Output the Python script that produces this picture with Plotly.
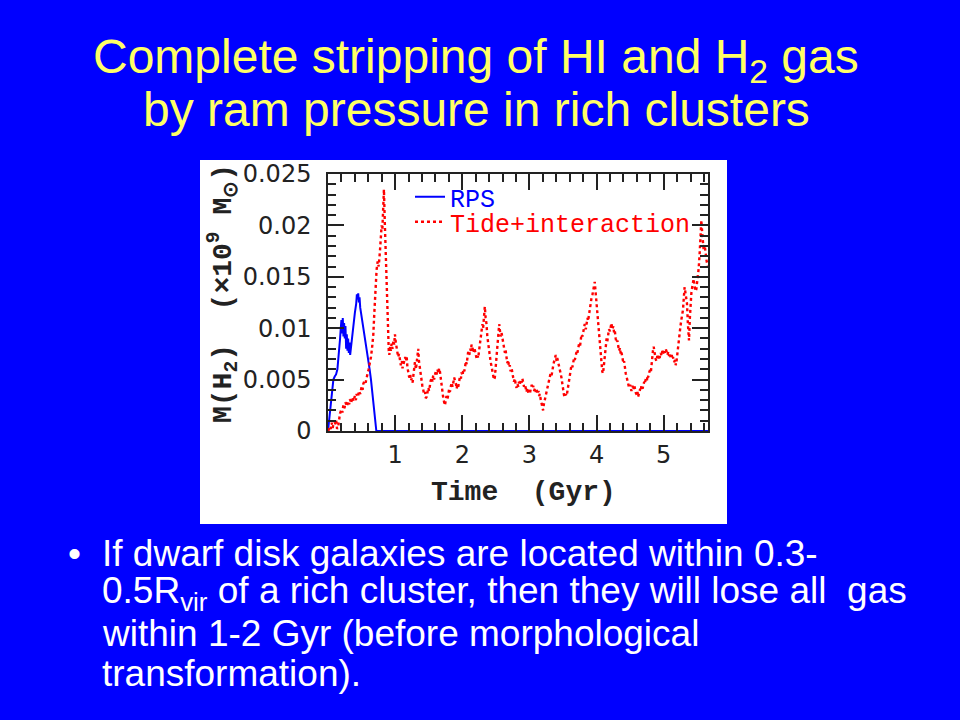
import plotly.graph_objects as go

# ---------------- data ----------------
rps_t = [0, 0.01, 0.02, 0.03, 0.04, 0.05, 0.06, 0.07, 0.08, 0.10, 0.12, 0.14, 0.16, 0.18,
         0.19, 0.20, 0.21, 0.22, 0.23, 0.24, 0.25, 0.26, 0.27, 0.28, 0.29, 0.30, 0.31, 0.32,
         0.33, 0.34, 0.35, 0.36, 0.38, 0.40, 0.42, 0.43, 0.44, 0.45, 0.46, 0.47, 0.48,
         0.50, 0.52, 0.54, 0.56, 0.58, 0.60, 0.62, 0.64, 0.66, 0.68, 0.70, 0.72, 5.66]
rps_m = [0, 0.0006, 0.0013, 0.0022, 0.0030, 0.0036, 0.0042, 0.0047, 0.0050, 0.0053, 0.0055,
         0.0060, 0.0072, 0.0090,
         0.0100, 0.0108, 0.0095, 0.0110, 0.0092, 0.0105, 0.0090, 0.0102, 0.0080, 0.0094,
         0.0078, 0.0090, 0.0076, 0.0086, 0.0074, 0.0080, 0.0088, 0.0095,
         0.0105, 0.0115, 0.0124, 0.0133, 0.0128, 0.0134, 0.0125, 0.0130, 0.0120,
         0.0112, 0.0100, 0.0094, 0.0085, 0.0078, 0.0068, 0.0060, 0.0050, 0.0036, 0.0022,
         0.0008, 0, 0]

tide_t = [
    0.005, 0.02, 0.04, 0.055, 0.07, 0.09, 0.104, 0.12, 0.135, 0.154,
    0.17, 0.179, 0.20, 0.215, 0.228, 0.245, 0.26, 0.28, 0.30, 0.315,
    0.327, 0.345, 0.36, 0.38, 0.40, 0.415, 0.427, 0.445, 0.46, 0.48,
    0.50, 0.515, 0.526, 0.545, 0.56, 0.575, 0.59, 0.605, 0.625, 0.64,
    0.655, 0.675, 0.69, 0.705, 0.724, 0.74, 0.755, 0.774, 0.785, 0.799,
    0.81, 0.822, 0.833, 0.845, 0.855, 0.863, 0.873, 0.883, 0.895, 0.905,
    0.913, 0.925, 0.935, 0.947, 0.96, 0.975, 0.985, 0.997, 1.01, 1.02,
    1.032, 1.045, 1.058, 1.071, 1.085, 1.10, 1.11, 1.121, 1.135, 1.15,
    1.16, 1.171, 1.183, 1.195, 1.21, 1.225, 1.235, 1.245, 1.26, 1.275,
    1.285, 1.295, 1.31, 1.325, 1.335, 1.344, 1.355, 1.369, 1.38, 1.395,
    1.405, 1.419, 1.43, 1.445, 1.455, 1.468, 1.48, 1.495, 1.505, 1.518,
    1.53, 1.545, 1.555, 1.567, 1.58, 1.595, 1.605, 1.617, 1.63, 1.645,
    1.655, 1.667, 1.68, 1.691, 1.705, 1.715, 1.73, 1.741, 1.755, 1.765,
    1.78, 1.791, 1.805, 1.815, 1.83, 1.84, 1.855, 1.865, 1.88, 1.89,
    1.905, 1.915, 1.93, 1.94, 1.955, 1.965, 1.98, 1.989, 2.005, 2.015,
    2.03, 2.039, 2.055, 2.065, 2.08, 2.088, 2.105, 2.115, 2.13, 2.138,
    2.155, 2.165, 2.18, 2.188, 2.205, 2.215, 2.23, 2.237, 2.25, 2.265,
    2.275, 2.287, 2.30, 2.31, 2.325, 2.336, 2.348, 2.361, 2.373, 2.386,
    2.40, 2.41, 2.421, 2.435, 2.45, 2.46, 2.472, 2.485, 2.50, 2.51,
    2.52, 2.535, 2.55, 2.56, 2.572, 2.584, 2.60, 2.61, 2.619, 2.635,
    2.645, 2.659, 2.67, 2.685, 2.695, 2.708, 2.72, 2.735, 2.745, 2.758,
    2.77, 2.785, 2.795, 2.808, 2.82, 2.835, 2.845, 2.857, 2.87, 2.885,
    2.895, 2.907, 2.92, 2.935, 2.945, 2.956, 2.97, 2.985, 2.995, 3.006,
    3.02, 3.035, 3.045, 3.056, 3.07, 3.085, 3.095, 3.105, 3.12, 3.135,
    3.145, 3.155, 3.17, 3.185, 3.195, 3.204, 3.215, 3.23, 3.24, 3.254,
    3.265, 3.28, 3.29, 3.304, 3.315, 3.33, 3.34, 3.353, 3.365, 3.38,
    3.393, 3.405, 3.415, 3.428, 3.44, 3.455, 3.465, 3.477, 3.49, 3.505,
    3.515, 3.527, 3.54, 3.555, 3.565, 3.576, 3.59, 3.605, 3.615, 3.626,
    3.64, 3.655, 3.665, 3.676, 3.69, 3.705, 3.715, 3.725, 3.74, 3.755,
    3.765, 3.775, 3.79, 3.805, 3.815, 3.824, 3.84, 3.855, 3.865, 3.874,
    3.89, 3.905, 3.915, 3.924, 3.94, 3.955, 3.965, 3.973, 3.985, 3.998,
    4.01, 4.023, 4.035, 4.048, 4.06, 4.072, 4.085, 4.097, 4.11, 4.122,
    4.135, 4.15, 4.16, 4.172, 4.185, 4.20, 4.21, 4.221, 4.235, 4.25,
    4.26, 4.271, 4.285, 4.30, 4.31, 4.32, 4.335, 4.35, 4.36, 4.37,
    4.385, 4.40, 4.41, 4.42, 4.435, 4.45, 4.46, 4.469, 4.485, 4.50,
    4.51, 4.519, 4.535, 4.55, 4.56, 4.568, 4.585, 4.60, 4.61, 4.618,
    4.635, 4.65, 4.66, 4.668, 4.685, 4.70, 4.71, 4.717, 4.735, 4.75,
    4.76, 4.767, 4.785, 4.80, 4.81, 4.816, 4.83, 4.84, 4.851, 4.865,
    4.88, 4.891, 4.905, 4.92, 4.93, 4.94, 4.955, 4.97, 4.98, 4.99,
    5.005, 5.02, 5.03, 5.04, 5.055, 5.07, 5.08, 5.089, 5.105, 5.12,
    5.13, 5.139, 5.155, 5.17, 5.18, 5.188, 5.20, 5.215, 5.225, 5.238,
    5.25, 5.265, 5.275, 5.288, 5.30, 5.312, 5.325, 5.335, 5.347, 5.36,
    5.37, 5.377, 5.39, 5.40, 5.412, 5.425, 5.435, 5.446, 5.46, 5.475,
    5.486, 5.50, 5.51, 5.521, 5.535, 5.55, 5.561, 5.575, 5.585, 5.595,
    5.61, 5.625, 5.64, 5.66]
tide_m = [
    0.0000, 0.0004, 0.0002, 0.0008, 0.0003, 0.0010, 0.0006, 0.0011, 0.0002, 0.0005,
    0.0013, 0.0017, 0.0021, 0.0018, 0.0025, 0.0022, 0.0028, 0.0024, 0.0029, 0.0026,
    0.0031, 0.0027, 0.0033, 0.0029, 0.0034, 0.0030, 0.0036, 0.0033, 0.0039, 0.0036,
    0.0043, 0.0040, 0.0046, 0.0049, 0.0047, 0.0054, 0.0056, 0.0060, 0.0066, 0.0072,
    0.0080, 0.0094, 0.0115, 0.0138, 0.0157, 0.0165, 0.0160, 0.0175, 0.0186, 0.0200,
    0.0196, 0.0215, 0.0235, 0.0205, 0.0185, 0.0160, 0.0130, 0.0108, 0.0090, 0.0078,
    0.0074, 0.0082, 0.0078, 0.0085, 0.0080, 0.0088, 0.0084, 0.0094, 0.0086, 0.0081,
    0.0078, 0.0072, 0.0075, 0.0068, 0.0064, 0.0068, 0.0061, 0.0064, 0.0067, 0.0072,
    0.0068, 0.0073, 0.0062, 0.0056, 0.0052, 0.0055, 0.0049, 0.0051, 0.0047, 0.0056,
    0.0062, 0.0067, 0.0060, 0.0072, 0.0078, 0.0080, 0.0068, 0.0060, 0.0052, 0.0047,
    0.0044, 0.0040, 0.0036, 0.0038, 0.0032, 0.0033, 0.0038, 0.0042, 0.0039, 0.0045,
    0.0049, 0.0052, 0.0048, 0.0054, 0.0050, 0.0055, 0.0058, 0.0055, 0.0060, 0.0056,
    0.0061, 0.0058, 0.0050, 0.0046, 0.0040, 0.0033, 0.0028, 0.0025, 0.0030, 0.0034,
    0.0031, 0.0037, 0.0041, 0.0038, 0.0044, 0.0047, 0.0043, 0.0048, 0.0052, 0.0049,
    0.0046, 0.0041, 0.0045, 0.0043, 0.0049, 0.0053, 0.0051, 0.0057, 0.0054, 0.0060,
    0.0058, 0.0064, 0.0068, 0.0065, 0.0072, 0.0077, 0.0074, 0.0080, 0.0078, 0.0084,
    0.0080, 0.0076, 0.0081, 0.0078, 0.0074, 0.0070, 0.0073, 0.0071, 0.0078, 0.0086,
    0.0093, 0.0097, 0.0104, 0.0100, 0.0112, 0.0121, 0.0110, 0.0104, 0.0092, 0.0084,
    0.0076, 0.0072, 0.0068, 0.0063, 0.0058, 0.0054, 0.0050, 0.0052, 0.0066, 0.0076,
    0.0084, 0.0096, 0.0104, 0.0098, 0.0092, 0.0096, 0.0088, 0.0084, 0.0080, 0.0076,
    0.0079, 0.0071, 0.0066, 0.0069, 0.0062, 0.0064, 0.0058, 0.0061, 0.0055, 0.0052,
    0.0048, 0.0051, 0.0045, 0.0042, 0.0046, 0.0043, 0.0048, 0.0045, 0.0050, 0.0047,
    0.0051, 0.0048, 0.0043, 0.0045, 0.0040, 0.0038, 0.0042, 0.0037, 0.0040, 0.0036,
    0.0041, 0.0045, 0.0042, 0.0044, 0.0039, 0.0042, 0.0038, 0.0041, 0.0036, 0.0039,
    0.0034, 0.0036, 0.0030, 0.0026, 0.0022, 0.0020, 0.0026, 0.0031, 0.0034, 0.0038,
    0.0042, 0.0046, 0.0049, 0.0052, 0.0056, 0.0054, 0.0060, 0.0063, 0.0067, 0.0070,
    0.0074, 0.0068, 0.0071, 0.0067, 0.0062, 0.0060, 0.0056, 0.0052, 0.0045, 0.0040,
    0.0035, 0.0033, 0.0036, 0.0034, 0.0039, 0.0043, 0.0050, 0.0055, 0.0060, 0.0064,
    0.0062, 0.0068, 0.0071, 0.0069, 0.0075, 0.0078, 0.0076, 0.0081, 0.0085, 0.0083,
    0.0090, 0.0094, 0.0092, 0.0098, 0.0100, 0.0104, 0.0099, 0.0106, 0.0110, 0.0107,
    0.0115, 0.0120, 0.0124, 0.0129, 0.0133, 0.0138, 0.0142, 0.0145, 0.0136, 0.0126,
    0.0114, 0.0102, 0.0092, 0.0082, 0.0072, 0.0063, 0.0058, 0.0056, 0.0066, 0.0076,
    0.0084, 0.0090, 0.0087, 0.0094, 0.0099, 0.0097, 0.0103, 0.0105, 0.0099, 0.0102,
    0.0096, 0.0098, 0.0090, 0.0086, 0.0088, 0.0082, 0.0078, 0.0081, 0.0075, 0.0077,
    0.0070, 0.0066, 0.0068, 0.0062, 0.0056, 0.0052, 0.0048, 0.0046, 0.0042, 0.0045,
    0.0041, 0.0039, 0.0044, 0.0040, 0.0045, 0.0042, 0.0037, 0.0035, 0.0038, 0.0033,
    0.0037, 0.0041, 0.0039, 0.0044, 0.0041, 0.0045, 0.0048, 0.0046, 0.0051, 0.0049,
    0.0054, 0.0052, 0.0057, 0.0060, 0.0058, 0.0064, 0.0072, 0.0078, 0.0082, 0.0074,
    0.0070, 0.0068, 0.0073, 0.0070, 0.0074, 0.0071, 0.0076, 0.0073, 0.0078, 0.0075,
    0.0079, 0.0076, 0.0080, 0.0078, 0.0074, 0.0077, 0.0073, 0.0076, 0.0071, 0.0074,
    0.0070, 0.0072, 0.0067, 0.0069, 0.0064, 0.0066, 0.0074, 0.0082, 0.0089, 0.0095,
    0.0102, 0.0109, 0.0114, 0.0118, 0.0130, 0.0140, 0.0134, 0.0128, 0.0124, 0.0105,
    0.0095, 0.0088, 0.0110, 0.0125, 0.0134, 0.0140, 0.0145, 0.0148, 0.0141, 0.0136,
    0.0138, 0.0145, 0.0152, 0.0158, 0.0172, 0.0190, 0.0205, 0.0192, 0.0183, 0.0176,
    0.0181, 0.0170, 0.0165, 0.0160]

x_tickvals = [1, 2, 3, 4, 5]
x_ticktext = ["1", "2", "3", "4", "5"]
y_tickvals = [0, 0.005, 0.01, 0.015, 0.02, 0.025]
y_ticktext = ["0", "0.005", "0.01", "0.015", "0.02", "0.025"]

title_lines = ["Complete stripping of HI and H<sub>2</sub> gas",
               "by ram pressure in rich clusters"]
body_lines = ["If dwarf disk galaxies are located within 0.3-",
              "0.5R<sub>vir</sub> of a rich cluster, then they will lose all  gas",
              "within 1-2 Gyr (before morphological",
              "transformation)."]

# ---------------- figure ----------------
W, H = 960, 720
L, R, T, B = 328, 252, 174, 289
PW, PH = W - L - R, H - T - B


def px(x):
    return (x - L) / PW


def py(y):
    return (H - B - y) / PH


fig = go.Figure()
fig.add_trace(go.Scatter(x=rps_t, y=rps_m, mode="lines", name="RPS", showlegend=True,
                         line=dict(color="#0000ff", width=2), legend="legend"))
fig.add_trace(go.Scatter(x=tide_t, y=tide_m, mode="lines", name="Tide+interaction",
                         showlegend=True,
                         line=dict(color="#ff0000", width=2.4, dash="dot"), legend="legend2"))

axis_common = dict(showline=True, linecolor="#222222", linewidth=1.5, mirror="ticks",
                   ticks="inside", tickcolor="#222222", tickwidth=1.5, ticklen=16,
                   showgrid=False, zeroline=False,
                   tickfont=dict(family="DejaVu Sans", size=24, color="#222222"))

fig.update_xaxes(range=[0, 5.66], tickmode="array", tickvals=x_tickvals, ticktext=x_ticktext,
                 ticklabelstandoff=1,
                 minor=dict(tickmode="linear", tick0=0, dtick=0.2, ticks="inside", ticklen=8,
                            tickcolor="#222222", tickwidth=1.5, showgrid=False),
                 **axis_common)
fig.update_yaxes(range=[0, 0.025], tickmode="array", tickvals=y_tickvals, ticktext=y_ticktext,
                 ticklabelstandoff=10,
                 minor=dict(tickmode="linear", tick0=0, dtick=0.001, ticks="inside", ticklen=8,
                            tickcolor="#222222", tickwidth=1.5, showgrid=False),
                 **axis_common)

annotations = []
for txt, yy in zip(title_lines, [60, 109]):
    annotations.append(dict(text=txt, x=px(476), y=py(yy), xref="paper", yref="paper",
                            xanchor="center", yanchor="middle", showarrow=False,
                            font=dict(family="Liberation Sans", size=48, color="#ffff66")))
for txt, yy in zip(body_lines, [553, 593, 633, 673]):
    annotations.append(dict(text=txt, x=px(100), y=py(yy), xref="paper", yref="paper",
                            xanchor="left", yanchor="middle", showarrow=False,
                            font=dict(family="Liberation Sans", size=37, color="white")))
annotations.append(dict(text="•", x=px(66), y=py(553), xref="paper", yref="paper",
                        xanchor="left", yanchor="middle", showarrow=False,
                        font=dict(family="Liberation Sans", size=37, color="white")))
annotations.append(dict(text="<b>Time  (Gyr)</b>", x=px(523), y=py(492), xref="paper",
                        yref="paper", xanchor="center", yanchor="middle", showarrow=False,
                        font=dict(family="Liberation Mono", size=28, color="#222222")))
annotations.append(dict(text="<b>M(H<sub>2</sub>)  (×10<sup>9</sup> M<sub>⊙</sub>)</b>",
                        x=px(223), y=py(294), xref="paper", yref="paper", textangle=-90,
                        xanchor="center", yanchor="middle", showarrow=False,
                        font=dict(family="Liberation Mono", size=28, color="#222222")))

shapes = [dict(type="rect", xref="paper", yref="paper", x0=px(200), x1=px(727),
               y0=py(524), y1=py(160), fillcolor="white", line=dict(width=0), layer="below")]

fig.update_layout(
    width=W, height=H, margin=dict(l=L, r=R, t=T, b=B, pad=0),
    paper_bgcolor="#0000ff", plot_bgcolor="white", showlegend=True,
    annotations=annotations, shapes=shapes,
    legend=dict(x=px(410), y=py(174), xanchor="left", yanchor="top", bgcolor="rgba(0,0,0,0)",
                font=dict(family="Liberation Mono", size=25, color="#0000ff")),
    legend2=dict(x=px(410), y=py(199), xanchor="left", yanchor="top", bgcolor="rgba(0,0,0,0)",
                 font=dict(family="Liberation Mono", size=25, color="#ff0000")),
)

fig.write_html("out.html", config={"displayModeBar": False},
               post_script="document.body.style.margin='0';")
